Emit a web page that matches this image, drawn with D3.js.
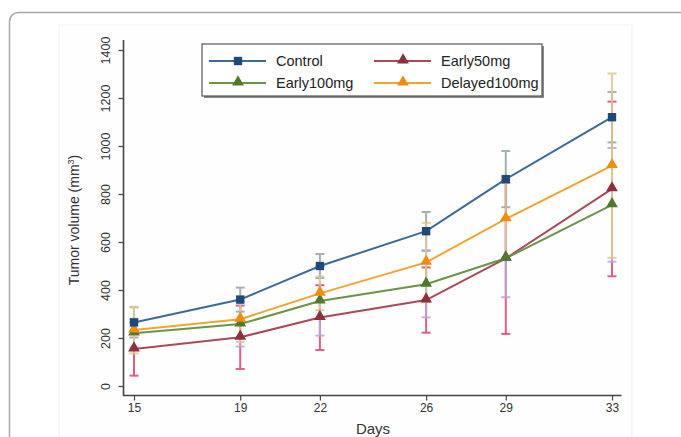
<!DOCTYPE html>
<html><head><meta charset="utf-8">
<script src="https://cdn.jsdelivr.net/npm/d3@7"></script>
<style>body{margin:0;background:#fff;} svg{display:block;font-family:"Liberation Sans",Arial,sans-serif;}</style>
</head><body><svg id="c" width="681" height="437"></svg>
<script>
const days = [15, 19, 22, 26, 29, 33];
const yTicks = [0, 200, 400, 600, 800, 1000, 1200, 1400];
const seriesNames = ["Control", "Early50mg", "Early100mg", "Delayed100mg"];
const controlMean = [265, 360, 500, 645, 862, 1120];
const controlErr  = [63, 50, 50, 80, 117, 105];
const early50Mean = [154, 203, 285, 358, 532, 821];
const early50Err  = [111, 132, 135, 136, 315, 364];
const early100Mean = [220, 258, 354, 424, 532, 755];
const early100Err  = [60, 94, 144, 138, 162, 237];
const delayedMean = [233, 278, 386, 515, 696, 918];
const delayedErr  = [97, 95, 70, 165, 162, 384];

const series = [
  {name:"Control", mean:controlMean, err:controlErr, line:"#3d6a96", mark:"#1d4a7a", errC:"#8fa7a3", shape:"square"},
  {name:"Early50mg", mean:early50Mean, err:early50Err, line:"#a84a5a", mark:"#8e2f3f", errC:"#d84472", shape:"triangle"},
  {name:"Early100mg", mean:early100Mean, err:early100Err, line:"#6a9448", mark:"#4f7a2e", errC:"#bca6dc", shape:"triangle"},
  {name:"Delayed100mg", mean:delayedMean, err:delayedErr, line:"#f2a431", mark:"#f08c10", errC:"#dccb8e", shape:"triangle"}
];

const svg = d3.select("#c");
// card frame
svg.append("rect").attr("x",9.5).attr("y",12.5).attr("width",700).attr("height",460).attr("rx",9)
  .attr("fill","#fff").attr("stroke","#a8a8a8").attr("stroke-width",1.5);
svg.append("rect").attr("x",59).attr("y",25).attr("width",573).attr("height",430)
  .attr("fill","#fefefe").attr("stroke","#f2f2f2").attr("stroke-width",1);

const x = d3.scaleLinear().domain([15,33]).range([134,612]);
const y = d3.scaleLinear().domain([0,1400]).range([386,50]);

// axes
const axisC = "#444";
svg.append("line").attr("x1",123).attr("x2",621.5).attr("y1",395.5).attr("y2",395.5).attr("stroke",axisC).attr("stroke-width",1.6);
svg.append("line").attr("x1",123.5).attr("x2",123.5).attr("y1",40).attr("y2",396).attr("stroke",axisC).attr("stroke-width",1.6);

const xa = svg.append("g").attr("transform","translate(0,395.5)")
  .call(d3.axisBottom(x).tickValues(days).tickSize(5).tickSizeOuter(0).tickPadding(3).tickFormat(d3.format("d")));
xa.select(".domain").remove();
xa.selectAll("line").attr("stroke",axisC).attr("stroke-width",1.2);
xa.selectAll("text").attr("font-size",12).attr("fill","#333");

const ya = svg.append("g").attr("transform","translate(123.5,0)")
  .call(d3.axisLeft(y).tickValues(yTicks).tickSize(5).tickSizeOuter(0).tickFormat(d3.format("d")));
ya.select(".domain").remove();
ya.selectAll("line").attr("stroke",axisC).attr("stroke-width",1.2);
ya.selectAll("text").attr("font-size",12.5).attr("fill","#333")
  .attr("x",0).attr("dy",0).attr("text-anchor","middle")
  .attr("transform","translate(-18,0) rotate(-90)").attr("dominant-baseline","central");

svg.append("text").attr("x",373).attr("y",434).attr("text-anchor","middle").attr("font-size",15).attr("fill","#333").text("Days");
const yl = svg.append("text").attr("transform","translate(79,220) rotate(-90)").attr("text-anchor","middle")
  .attr("font-size",14).attr("fill","#333");
yl.append("tspan").text("Tumor volume (mm");
yl.append("tspan").attr("dy",-5).attr("font-size",9).text("3");
yl.append("tspan").attr("dy",5).text(")");

// error bars
const cap = 4.5;
series.forEach(s=>{
  const g = svg.append("g").attr("stroke",s.errC).attr("stroke-width",2).attr("opacity",0.85);
  days.forEach((d,i)=>{
    const lo = y(s.mean[i]-s.err[i]), hi = y(s.mean[i]+s.err[i]), cx = x(d);
    g.append("line").attr("x1",cx).attr("x2",cx).attr("y1",lo).attr("y2",hi);
    g.append("line").attr("x1",cx-cap).attr("x2",cx+cap).attr("y1",lo).attr("y2",lo);
    g.append("line").attr("x1",cx-cap).attr("x2",cx+cap).attr("y1",hi).attr("y2",hi);
  });
});

const line = d3.line().x((d,i)=>x(days[i])).y(d=>y(d));
const sq = d3.symbol().type(d3.symbolSquare).size(70);
const tri = d3.symbol().type(d3.symbolTriangle).size(60);
// draw order: lines
[series[1], series[2], series[3], series[0]].forEach(s=>{
  svg.append("path").attr("d",line(s.mean)).attr("fill","none").attr("stroke",s.line).attr("stroke-width",2);
  svg.selectAll(null).data(s.mean).enter().append("path")
    .attr("d", s.shape==="square"?sq():tri())
    .attr("transform",(d,i)=>`translate(${x(days[i])},${y(d)+(s.shape==="square"?0:-1)})`)
    .attr("fill",s.mark);
});

// legend
const lg = svg.append("g");
lg.append("rect").attr("x",204).attr("y",46).attr("width",340).attr("height",52).attr("fill","#888");
lg.append("rect").attr("x",202).attr("y",44).attr("width",340).attr("height",52).attr("fill","#fff").attr("stroke","#555").attr("stroke-width",1.2);
const lpos = [[209,61],[374,61],[209,83],[374,83]];
series.forEach((s,i)=>{
  const [lx,ly] = lpos[i];
  lg.append("line").attr("x1",lx).attr("x2",lx+57).attr("y1",ly).attr("y2",ly).attr("stroke",s.line).attr("stroke-width",2);
  lg.append("path").attr("d", s.shape==="square"?sq():tri()).attr("transform",`translate(${lx+29},${ly+(s.shape==="square"?0:-1)})`).attr("fill",s.mark);
  lg.append("text").attr("x",lx+67).attr("y",ly).attr("dy","0.35em").attr("font-size",14.5).attr("fill","#222").text(s.name);
});
</script></body></html>
